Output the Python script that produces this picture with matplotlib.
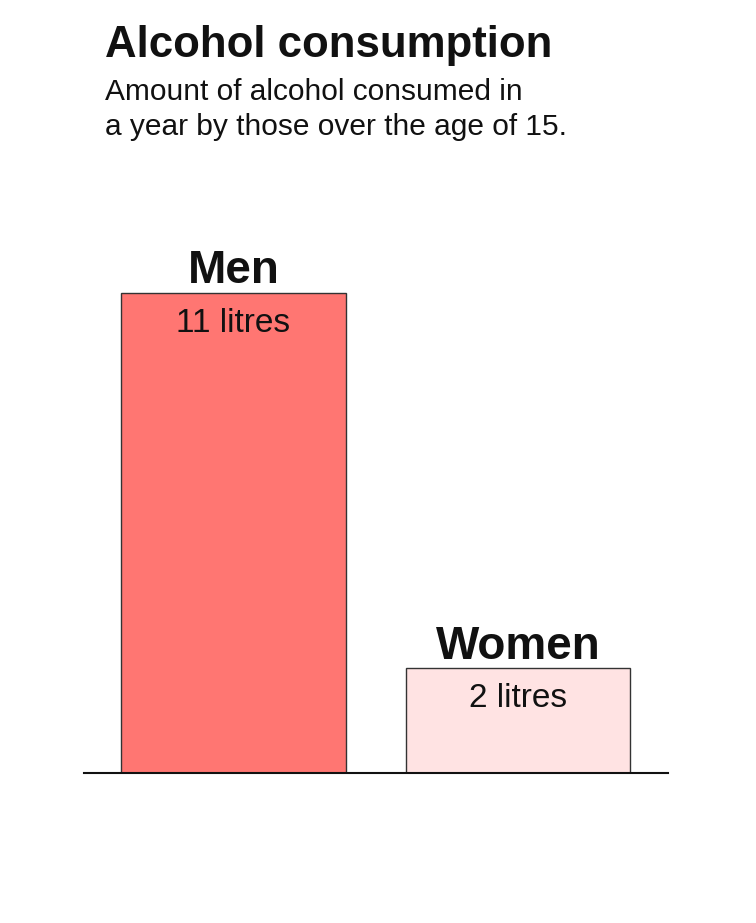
import matplotlib.pyplot as plt

groups = ["Men", "Women"]
litres = [11, 2.4]
value_labels = ["11 litres", "2 litres"]
colors = ["#ff7672", "#ffe3e3"]

plt.rcParams['font.family'] = ['Liberation Sans', 'DejaVu Sans']

fig = plt.figure(figsize=(7.56, 9.23), dpi=100)
ax = fig.add_axes([84 / 756, 150 / 923, 584 / 756, 573 / 923])

x = range(len(groups))
bars = ax.bar(x, litres, width=0.79, color=colors, edgecolor="#333333", linewidth=1)

ax.set_xlim(-0.525, 1.527)
ax.set_ylim(0, 11 * 573 / 480)

for xi, v, name, lab in zip(x, litres, groups, value_labels):
    ax.annotate(name, (xi, v), xytext=(0, 7), textcoords="offset points",
                ha="center", va="baseline", fontsize=33, fontweight="bold", color="#111111")
    ax.annotate(lab, (xi, v), xytext=(0, -28), textcoords="offset points",
                ha="center", va="baseline", fontsize=24, color="#111111")

for s in ["top", "right", "left"]:
    ax.spines[s].set_visible(False)
ax.spines["bottom"].set_linewidth(1.5)
ax.spines["bottom"].set_color("#111111")
ax.set_xticks([])
ax.set_yticks([])

fig.text(105 / 756, 1 - 57 / 923, "Alcohol consumption", fontsize=31.5, fontweight="bold",
         color="#111111", va="baseline")
fig.text(105 / 756, 1 - 100 / 923, "Amount of alcohol consumed in", fontsize=21.5,
         color="#111111", va="baseline")
fig.text(105 / 756, 1 - 135 / 923, "a year by those over the age of 15.", fontsize=21.5,
         color="#111111", va="baseline")

plt.savefig("out.png", dpi=100)
